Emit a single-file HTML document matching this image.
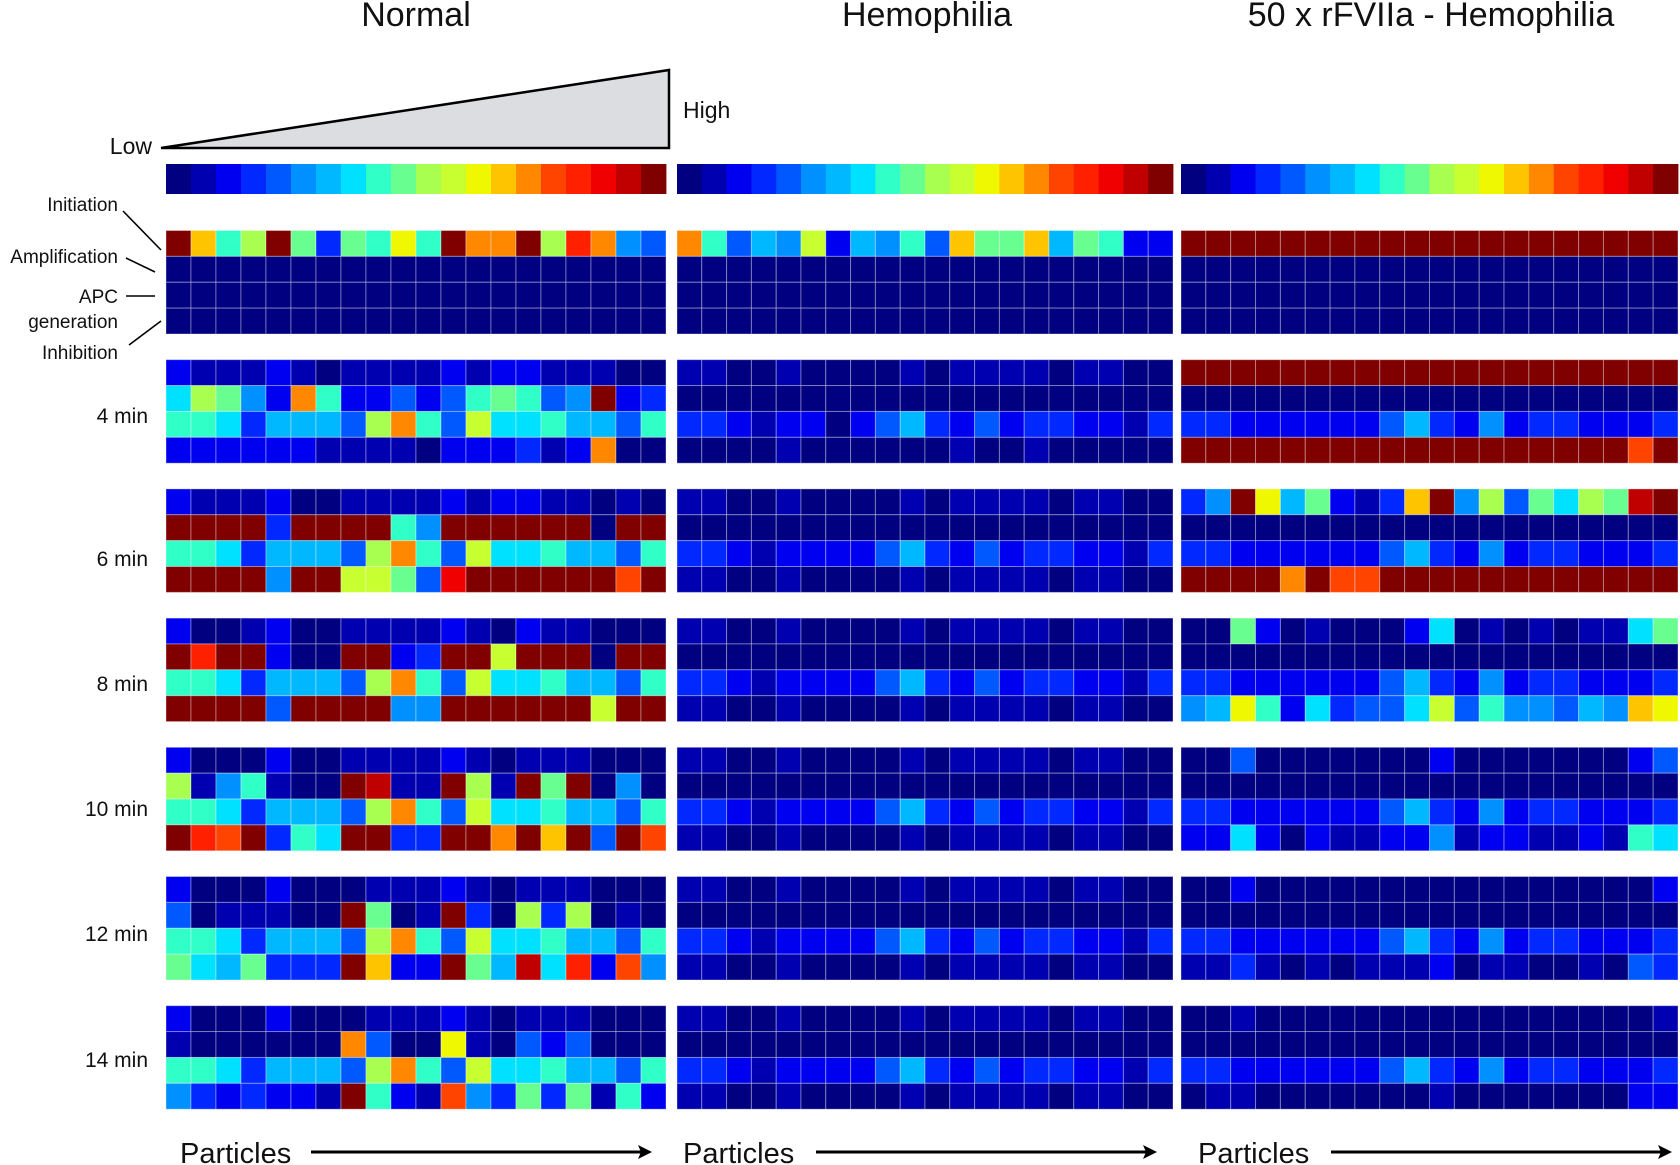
<!DOCTYPE html>
<html>
<head>
<meta charset="utf-8">
<style>
html,body{margin:0;padding:0;background:#fff;}
svg{display:block;}
text{font-family:"Liberation Sans",sans-serif;fill:#111;}
</style>
</head>
<body>
<svg id="chart" width="1680" height="1165" viewBox="0 0 1680 1165" xmlns="http://www.w3.org/2000/svg">
  <text x="416" y="26" font-size="34" text-anchor="middle">Normal</text>
  <text x="927" y="26" font-size="34" text-anchor="middle">Hemophilia</text>
  <text x="1431" y="26" font-size="34" text-anchor="middle">50 x rFVIIa - Hemophilia</text>

  <polygon points="161,148 669,70 669,148" fill="#dcdde0" stroke="#000" stroke-width="2.5" stroke-linejoin="miter"/>
  <text x="152" y="154" font-size="23" text-anchor="end">Low</text>
  <text x="683" y="118" font-size="23">High</text>

  <g>
    <text x="118" y="211" font-size="19" text-anchor="end">Initiation</text>
    <text x="118" y="263" font-size="19" text-anchor="end">Amplification</text>
    <text x="118" y="303" font-size="19" text-anchor="end">APC</text>
    <text x="118" y="328" font-size="19" text-anchor="end">generation</text>
    <text x="118" y="359" font-size="19" text-anchor="end">Inhibition</text>
    <line x1="123" y1="211" x2="161" y2="250" stroke="#000" stroke-width="1.6"/>
    <line x1="126" y1="258" x2="155" y2="272" stroke="#000" stroke-width="1.6"/>
    <line x1="126" y1="296" x2="155" y2="296" stroke="#000" stroke-width="1.6"/>
    <line x1="129" y1="345" x2="161" y2="321" stroke="#000" stroke-width="1.6"/>
  </g>

  <g id="grid"></g>

  <g>
    <text x="180" y="1163" font-size="29">Particles</text>
    <line x1="311" y1="1152" x2="642" y2="1152" stroke="#000" stroke-width="3"/>
    <polygon points="652,1152 638,1145 641,1152 638,1159" fill="#000"/>
    <text x="683" y="1163" font-size="29">Particles</text>
    <line x1="816" y1="1152" x2="1147" y2="1152" stroke="#000" stroke-width="3"/>
    <polygon points="1157,1152 1143,1145 1146,1152 1143,1159" fill="#000"/>
    <text x="1198" y="1163" font-size="29">Particles</text>
    <line x1="1331" y1="1152" x2="1662" y2="1152" stroke="#000" stroke-width="3"/>
    <polygon points="1672,1152 1658,1145 1661,1152 1658,1159" fill="#000"/>
  </g>
</svg>
<script>
// ---- data (each char = value 0..19 via "0123456789abcdefghij") ----
const timeLabels = ["", "4 min", "6 min", "8 min", "10 min", "12 min", "14 min"];
const panelNames = ["normal", "hemophilia", "rfviia"];
const colorbarValues = [0,1,2,3,4,5,6,7,8,9,10,11,12,13,14,15,16,17,18,19];

const normalData = [
  ["jd8aj9398c8jeejage54","00000000000000000000","00000000000000000000","00000000000000000000"],
  ["21112101111212211100","7a952e82242489845j23","88736664ae84b7786648","22222211110222312e00"],
  ["21112001111212211010","jjjj3jjjj85jjjjjj0jj","88736664ae84b7786648","jjjj5jjbb94hjjjjjjfj"],
  ["20012001111210211000","jgjj200jj23jjbjjj0jj","88736664ae84b7786648","jjjj4jjjj55jjjjjjbjj"],
  ["20002001111210111000","a158100ji11ja1j9j050","88736664ae84b7786648","jgfj387jj33jjejdj4jf"],
  ["20002000111210111000","4011100j901j30a3a010","88736664ae84b7786648","9769333jd22j96i7g2f5"],
  ["20002000111210111000","1000000e400c10424000","88736664ae84b7786648","5323221j821f53939182"]
];
const hemophiliaData = [
  ["e8465b26584d99d69822","00000000000000000000","00000000000000000000","00000000000000000000"],
  ["11001000010111101100","00000000000000000000","33212202463242332213","00001000000100100000"],
  ["11001000010111101100","00000000000000000000","33212222463242332213","11001000010111101100"],
  ["11001000010111101100","00000000000000000000","33212222463242332213","11001000010111101100"],
  ["11001000010111101100","00000000000000000000","33212222463242332213","11001000010111101100"],
  ["11001000010111101100","00000000000000000000","33212222463242332213","11001000010111101100"],
  ["11001000010111101100","00000000000000000000","33212222463242332213","11001000010111101100"]
];
const rfviiaData = [
  ["jjjjjjjjjjjjjjjjjjjj","00000000000000000000","00000000000000000000","00000000000000000000"],
  ["jjjjjjjjjjjjjjjjjjjj","00000000000000000000","33222222463252332223","jjjjjjjjjjjjjjjjjjfj"],
  ["35jc69213dj5a497a9ij","00000000000000000000","33222222463252332223","jjjjejffjjjjjjjjjjjj"],
  ["00920100027010101179","00000000000000000000","33222222463252332223","56c8273447b4855465dc"],
  ["00400000002000000024","00000000000000000000","33222222463252332223","22720211225122112187"],
  ["00200000000000000002","00000000000000000000","33222222463252332223","11310101112011001043"],
  ["00100000000000000001","00000000000000000000","33222222463252332223","01100000001000000022"]
];

// ---- colormap & layout ----
const CODES = "0123456789abcdefghij";
const PALETTE = ["#000080","#0000b0","#0000f0","#0028ff","#0058ff","#0090ff","#00b8ff","#00e0ff","#30ffc8","#68ff90",
                 "#a8ff50","#c8ff30","#f0f800","#ffc400","#ff8800","#ff4400","#ff2000","#f00000","#c00000","#800000"];
function colorOf(v){ return PALETTE[Math.max(0, Math.min(19, v))]; }
function decode(ch){ return CODES.indexOf(ch); }

const panelX = [166, 677, 1181];
const panelW = [500, 496, 497];
const blockTop0 = 230.5, blockPitch = 129.2, blockH = 103.5;
const cbTop = 164, cbH = 30;
const labelBaselines = [0, 423, 566, 691, 816, 941, 1067];
function xScale(p, col){ return panelX[p] + col * panelW[p] / 20; }
function yScale(block, row){ return blockTop0 + block * blockPitch + row * blockH / 4; }

const NS = "http://www.w3.org/2000/svg";
const grid = document.getElementById("grid");
const datasets = [normalData, hemophiliaData, rfviiaData];

// colorbars
panelNames.forEach(function(name, p){
  const g = document.createElementNS(NS, "g");
  
  
  colorbarValues.forEach(function(v, i){
    const r = document.createElementNS(NS, "rect");
    
    
    r.setAttribute("x", xScale(p, i));
    r.setAttribute("y", cbTop);
    r.setAttribute("width", panelW[p] / 20 + 0.4);
    r.setAttribute("height", cbH);
    r.setAttribute("fill", colorOf(Math.round(v)));
    g.appendChild(r);
  });
  grid.appendChild(g);
});

// cells
datasets.forEach(function(data, p){
  const pg = document.createElementNS(NS, "g");
  
  
  data.forEach(function(block, b){
    const bg = document.createElementNS(NS, "g");
    
    
    block.forEach(function(rowStr, r){
      for (let c = 0; c < rowStr.length; c++){
        const v = decode(rowStr[c]);
        const rect = document.createElementNS(NS, "rect");
        
        
        rect.setAttribute("x", xScale(p, c));
        rect.setAttribute("y", yScale(b, r));
        rect.setAttribute("width", panelW[p] / 20);
        rect.setAttribute("height", blockH / 4);
        rect.setAttribute("fill", colorOf(v));
        rect.setAttribute("stroke", "rgba(255,255,255,0.35)");
        rect.setAttribute("stroke-width", "1");
        bg.appendChild(rect);
      }
    });
    pg.appendChild(bg);
  });
  grid.appendChild(pg);
});

// time labels
timeLabels.forEach(function(lbl, b){
  if (!lbl) return;
  const t = document.createElementNS(NS, "text");
  
  
  t.setAttribute("x", 148);
  t.setAttribute("y", labelBaselines[b]);
  t.setAttribute("font-size", "21");
  t.setAttribute("text-anchor", "end");
  t.textContent = lbl;
  grid.appendChild(t);
});
</script>
</body>
</html>
